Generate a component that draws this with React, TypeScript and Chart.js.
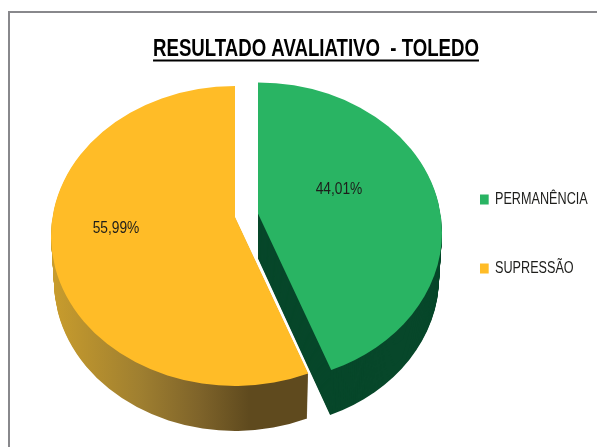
import React, { useEffect, useRef } from "react";
import { Chart, registerables } from "chart.js";

Chart.register(...registerables);

const titleText = "RESULTADO AVALIATIVO  - TOLEDO";
const categories = ["PERMANÊNCIA", "SUPRESSÃO"];
const percentages = [44.01, 55.99];
const explode = [23.4, 0];
const faceColors = ["#29b463", "#ffbc27"];

const sans = "'Liberation Sans', Arial, sans-serif";

// Projection of the tilted pie
const CX = 235, CY = 236, RX = 184, RY = 150, LIFT = 19, DEPTH = 45, BOTTOM_SCALE = 0.984, WARP = 0.09;
const labelOffsets = [[81, -43], [-119, -8]];
// Condensing factors for the narrow lettering
const TITLE_SQUEEZE = 0.776, LEGEND_SQUEEZE = 0.79, LABEL_SQUEEZE = 0.81;
const LEGEND_X = 480;

function warp(a: number) {
  const t = a + Math.PI / 2;
  return a + WARP * Math.sin(t) * -1;
}

function wedge(ctx: CanvasRenderingContext2D, x: number, y: number, rx: number, ry: number, lift: number, a0: number, a1: number) {
  ctx.beginPath();
  ctx.moveTo(x, y - lift);
  ctx.ellipse(x, y, rx, ry, 0, warp(a0), warp(a1));
  ctx.closePath();
}

const pie3d = {
  id: "pie3d",
  beforeDatasetDraw(chart: any) {
    const ctx: CanvasRenderingContext2D = chart.ctx;
    const arcs = chart.getDatasetMeta(0).data;
    arcs.forEach((arc: any, i: number) => {
      const { startAngle: a0, endAngle: a1 } = arc;
      const mid = (a0 + a1) / 2;
      const off = arc.options.offset || 0;
      const x = CX + Math.cos(mid) * off;
      const y = CY + Math.sin(mid) * off * (RY / RX);
      let side: any = "#07472a";
      if (i === 1) {
        const g = ctx.createLinearGradient(51, 0, 305, 0);
        g.addColorStop(0, "#c99d2d");
        g.addColorStop(0.35, "#9f7f30");
        g.addColorStop(0.58, "#7f642a");
        g.addColorStop(0.78, "#5f4a1e");
        g.addColorStop(1, "#5f4a1e");
        side = g;
      }
      ctx.save();
      ctx.fillStyle = side;
      for (let k = DEPTH; k >= 1; k--) {
        const s = 1 - (1 - BOTTOM_SCALE) * (k / DEPTH);
        wedge(ctx, x, y + k, RX * s, RY, LIFT, a0, a1);
        ctx.fill();
      }
      ctx.fillStyle = arc.options.backgroundColor;
      wedge(ctx, x, y, RX, RY, LIFT, a0, a1);
      ctx.fill();
      ctx.fillStyle = "#1d1d1b";
      ctx.font = `17px ${sans}`;
      ctx.textAlign = "center";
      ctx.textBaseline = "middle";
      const pct = percentages[i].toFixed(2).replace(".", ",") + "%";
      ctx.translate(x + labelOffsets[i][0], y + labelOffsets[i][1]);
      ctx.scale(LABEL_SQUEEZE, 1);
      ctx.fillText(pct, 0, 0);
      ctx.restore();
    });
    return false;
  },
};

function squeezeBox(box: any, ctx: CanvasRenderingContext2D, pivot: () => number, factor: number) {
  if (box.__squeezed) return;
  box.__squeezed = true;
  const draw = box.draw.bind(box);
  box.draw = (...args: any[]) => {
    ctx.save();
    const p = pivot();
    ctx.translate(p, 0);
    ctx.scale(factor, 1);
    ctx.translate(-p, 0);
    draw(...args);
    ctx.restore();
  };
}

const frame = {
  id: "frame",
  beforeDraw(chart: any) {
    const ctx: CanvasRenderingContext2D = chart.ctx;
    ctx.save();
    ctx.strokeStyle = "#88888c";
    ctx.lineWidth = 2;
    ctx.beginPath();
    ctx.moveTo(9, chart.height);
    ctx.lineTo(9, 12);
    ctx.lineTo(chart.width, 12);
    ctx.stroke();
    ctx.restore();
  },
  afterLayout(chart: any) {
    const l = chart.legend;
    const pad = l.options.labels.padding;
    l.left = LEGEND_X - pad;
    l.right = 800;
    l.top = 191.5 - pad;
    l.bottom = 447;
    const t = chart.titleBlock;
    squeezeBox(l, chart.ctx, () => LEGEND_X, LEGEND_SQUEEZE);
    squeezeBox(t, chart.ctx, () => (t.left + t.right) / 2, TITLE_SQUEEZE);
  },
  afterDraw(chart: any) {
    const ctx: CanvasRenderingContext2D = chart.ctx;
    const t = chart.titleBlock;
    ctx.save();
    ctx.font = `bold 24px ${sans}`;
    const w = ctx.measureText(titleText).width * TITLE_SQUEEZE;
    const mid = (t.left + t.right) / 2;
    ctx.fillStyle = "#000";
    ctx.fillRect(mid - w / 2, 59.5, w, 2);
    ctx.restore();
  },
};

export default function App() {
  const ref = useRef<HTMLCanvasElement>(null);
  useEffect(() => {
    const chart = new Chart(ref.current!, {
      type: "pie",
      data: {
        labels: categories,
        datasets: [
          {
            data: percentages,
            backgroundColor: faceColors,
            borderWidth: 0,
            offset: explode,
          },
        ],
      },
      options: {
        responsive: false,
        animation: false,
        layout: { padding: { left: 35 } },
        plugins: {
          tooltip: { enabled: false },
          title: {
            display: true,
            text: titleText,
            color: "#000",
            font: { family: sans, size: 24, weight: "bold" },
            padding: { top: 35, bottom: 6 },
          },
          legend: {
            position: "right",
            align: "start",
            labels: {
              boxWidth: 11,
              boxHeight: 10,
              padding: 53,
              color: "#1d1d1b",
              font: { family: sans, size: 16 },
            },
          },
        },
      } as any,
      plugins: [frame, pie3d],
    });
    return () => chart.destroy();
  }, []);
  return (
    <div style={{ position: "absolute", left: 0, top: 0, width: 597, height: 447 }}>
      <canvas ref={ref} width={597} height={447} style={{ display: "block" }} />
    </div>
  );
}
